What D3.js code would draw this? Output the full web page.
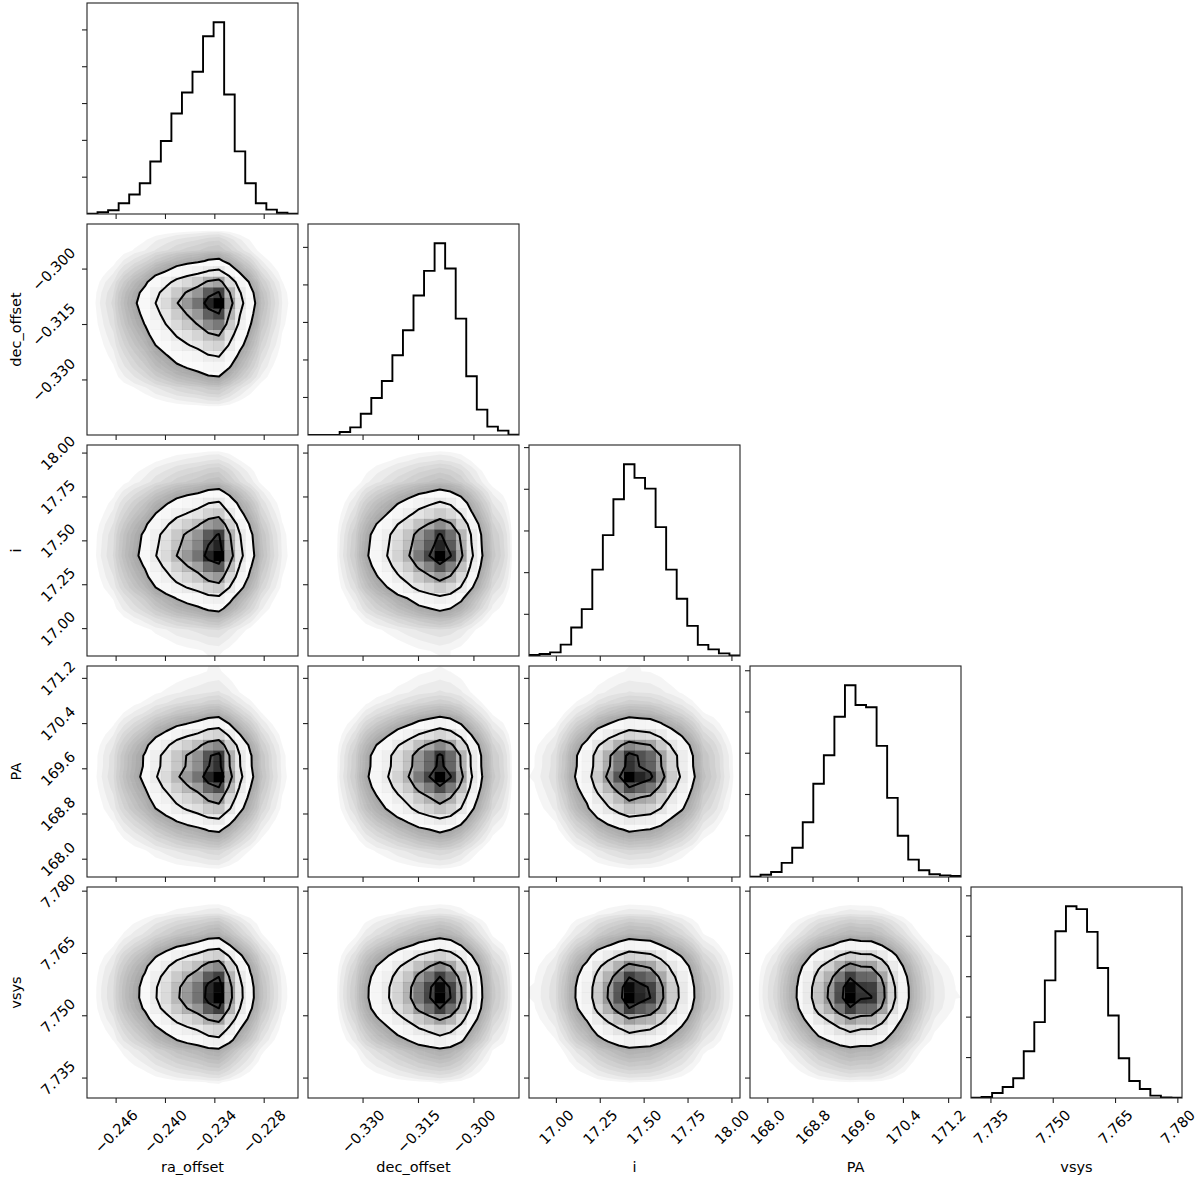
<!DOCTYPE html>
<html>
<head>
<meta charset="utf-8">
<script src="https://cdn.jsdelivr.net/npm/d3@7"></script>
<style>
  body { margin: 0; background: #fff; }
  text { font-family: "DejaVu Sans", sans-serif; fill: #000; }
</style>
</head>
<body>
<svg id="chart" width="1200" height="1179"></svg>
<script>
// parameters, axis ranges and ticks
const labels = ["ra_offset", "dec_offset", "i", "PA", "vsys"];
const rangeLo = [-0.24954, -0.3449, 16.844, 167.685, 7.7302];
const rangeHi = [-0.22389, -0.2878, 18.046, 171.419, 7.7810];
const ticksRa = [-0.246, -0.240, -0.234, -0.228];
const ticksDec = [-0.330, -0.315, -0.300];
const ticksI = [17.00, 17.25, 17.50, 17.75, 18.00];
const ticksPA = [168.0, 168.8, 169.6, 170.4, 171.2];
const ticksVsys = [7.735, 7.750, 7.765, 7.780];
const tickFormats = [".3f", ".3f", ".2f", ".1f", ".3f"];
const countTicks = [500, 1000, 1500, 2000, 2500];

// 1d histograms, 20 bins over each range (sample counts)
const histRa = [5, 23, 50, 145, 264, 418, 714, 991, 1364, 1650, 1932, 2414, 2605, 1623, 850, 418, 145, 59, 18, 5];
const histDec = [0, 1, 2, 40, 102, 284, 493, 720, 1062, 1396, 1858, 2187, 2556, 2218, 1551, 782, 338, 111, 58, 3];
const histI = [12, 24, 44, 137, 341, 562, 1036, 1450, 1880, 2301, 2137, 2008, 1546, 1036, 687, 361, 133, 80, 32, 8];
const histPA = [4, 28, 61, 171, 354, 663, 1130, 1476, 1943, 2325, 2085, 2057, 1589, 959, 500, 211, 81, 33, 20, 12];
const histVsys = [4, 12, 62, 136, 244, 578, 938, 1454, 2062, 2372, 2335, 2054, 1607, 1021, 492, 211, 112, 29, 8, 4];

// credible levels of the 2d contours (0.5, 1, 1.5, 2 sigma)
const levels = [0.118, 0.393, 0.675, 0.865];
// cloud of samples outside the outer contour, as fractions of the outer level
const cloudLevels = [0.035, 0.06, 0.1, 0.15, 0.21, 0.29, 0.38, 0.48, 0.6, 0.73, 0.87];

const ticks = [ticksRa, ticksDec, ticksI, ticksPA, ticksVsys];
const hists = [histRa, histDec, histI, histPA, histVsys];
const K = labels.length;
const nb = 20;

const left0 = 87, top0 = 3, step = 221, size = 211;
const fs = 14.5, tickLen = 5, pad = 5;

const svg = d3.select("#chart");
const defs = svg.append("defs");

function scaleFor(k, vertical) {
  return d3.scaleLinear().domain([rangeLo[k], rangeHi[k]]).range(vertical ? [size, 0] : [0, size]);
}

function rotLabel(g, x, y, str, side) {
  const t = g.append("text")
    .attr("font-size", fs)
    .attr("text-anchor", "middle")
    .attr("dy", "0.35em")
    .text(str);
  const w = t.node().getComputedTextLength();
  const half = (w + 0.85 * fs) / (2 * Math.SQRT2);
  const cx = side === "bottom" ? x : x - half;
  const cy = side === "bottom" ? y + half : y;
  t.attr("transform", `translate(${cx},${cy}) rotate(-45)`);
}

function contourLevels(values) {
  const sorted = Array.from(values).sort((a, b) => b - a);
  const total = d3.sum(sorted);
  let cum = 0;
  const cs = sorted.map(v => (cum += v) / total);
  return levels.map(l => {
    let idx = -1;
    cs.forEach((c, k) => { if (c <= l) idx = k; });
    return idx >= 0 ? sorted[idx] : sorted[0];
  }).sort((a, b) => a - b);
}

for (let row = 0; row < K; row++) {
  for (let col = 0; col <= row; col++) {
    const g = svg.append("g")
      .attr("transform", `translate(${left0 + col * step},${top0 + row * step})`);
    const clipId = `clip-${row}-${col}`;
    defs.append("clipPath").attr("id", clipId)
      .append("rect").attr("width", size).attr("height", size);
    const inner = g.append("g").attr("clip-path", `url(#${clipId})`);
    const x = scaleFor(col, false);
    const bw = (rangeHi[col] - rangeLo[col]) / nb;

    if (row === col) {
      // diagonal: step histogram
      const h = hists[col];
      const y = d3.scaleLinear().domain([0, 1.1 * d3.max(h)]).range([size, 0]);
      const pts = [[rangeLo[col], 0]]
        .concat(h.map((c, i) => [rangeLo[col] + i * bw, c]))
        .concat([[rangeHi[col], h[nb - 1]], [rangeHi[col], 0]]);
      inner.append("path")
        .attr("d", d3.line().x(d => x(d[0])).y(d => y(d[1])).curve(d3.curveStepAfter)(pts))
        .attr("fill", "none")
        .attr("stroke", "#000")
        .attr("stroke-width", 1.9);
      g.selectAll(".yt").data(countTicks.filter(t => y(t) >= 0)).enter().append("line")
        .attr("x1", -tickLen).attr("x2", 0)
        .attr("y1", d => y(d)).attr("y2", d => y(d))
        .attr("stroke", "#222").attr("stroke-width", 1.1);
    } else {
      // off-diagonal: 2d density from the two marginals
      const y = scaleFor(row, true);
      const bwy = (rangeHi[row] - rangeLo[row]) / nb;
      const hx = hists[col], hy = hists[row];
      const values = new Float64Array(nb * nb);
      for (let j = 0; j < nb; j++) for (let i = 0; i < nb; i++) values[j * nb + i] = hx[i] * hy[j];
      const hmax = d3.max(values);
      const V = contourLevels(values);

      const proj = d3.geoTransform({
        point: function(gx, gy) {
          this.stream.point(x(rangeLo[col] + gx * bw), y(rangeLo[row] + gy * bwy));
        }
      });
      const path = d3.geoPath(proj);

      // sample cloud
      const cloud = d3.contours().size([nb, nb]).thresholds(cloudLevels.map(f => f * V[0]))(values);
      inner.selectAll(".cloud").data(cloud).enter().append("path")
        .attr("d", path)
        .attr("fill", "#000")
        .attr("fill-opacity", 0.04);

      // white fill inside the outer contour
      const outer = d3.contours().size([nb, nb]).thresholds([V[0]])(values);
      inner.selectAll(".outer").data(outer).enter().append("path")
        .attr("d", path)
        .attr("fill", "#fff");

      // density squares
      const cells = [];
      for (let j = 0; j < nb; j++) for (let i = 0; i < nb; i++) cells.push({ i, j, t: values[j * nb + i] / hmax });
      inner.selectAll(".cell").data(cells).enter().append("rect")
        .attr("x", d => x(rangeLo[col] + d.i * bw))
        .attr("y", d => y(rangeLo[row] + (d.j + 1) * bwy))
        .attr("width", x(rangeLo[col] + bw) - x(rangeLo[col]) + 0.4)
        .attr("height", y(rangeLo[row]) - y(rangeLo[row] + bwy) + 0.4)
        .attr("fill", d => d3.rgb(255 * (1 - d.t), 255 * (1 - d.t), 255 * (1 - d.t)))
        .attr("fill-opacity", d => d.t);

      // contour lines
      const lines = d3.contours().size([nb, nb]).thresholds(V)(values);
      inner.selectAll(".line").data(lines).enter().append("path")
        .attr("d", path)
        .attr("fill", "none")
        .attr("stroke", "#000")
        .attr("stroke-width", 2)
        .attr("stroke-linejoin", "round");

      // y ticks
      g.selectAll(".yt").data(ticks[row]).enter().append("line")
        .attr("x1", -tickLen).attr("x2", 0)
        .attr("y1", d => y(d)).attr("y2", d => y(d))
        .attr("stroke", "#222").attr("stroke-width", 1.1);
      if (col === 0) {
        const f = d3.format(tickFormats[row]);
        ticks[row].forEach(t => rotLabel(g, -tickLen - pad, y(t), f(t), "left"));
        g.append("text")
          .attr("font-size", fs)
          .attr("text-anchor", "middle")
          .attr("transform", `translate(${-0.3 * size + 0.5},${size / 2}) rotate(-90)`)
          .attr("dy", "-0.25em")
          .text(labels[row]);
      }
    }

    // x ticks
    g.selectAll(".xt").data(ticks[col]).enter().append("line")
      .attr("x1", d => x(d)).attr("x2", d => x(d))
      .attr("y1", size).attr("y2", size + tickLen)
      .attr("stroke", "#222").attr("stroke-width", 1.1);
    if (row === K - 1) {
      const f = d3.format(tickFormats[col]);
      ticks[col].forEach(t => rotLabel(g, x(t), size + tickLen + pad, f(t), "bottom"));
      g.append("text")
        .attr("font-size", fs)
        .attr("text-anchor", "middle")
        .attr("x", size / 2)
        .attr("y", size + 0.3 * size + 11)
        .text(labels[col]);
    }

    // frame
    g.append("rect")
      .attr("width", size).attr("height", size)
      .attr("fill", "none")
      .attr("stroke", "#222")
      .attr("stroke-width", 1.1);
  }
}
</script>
</body>
</html>
